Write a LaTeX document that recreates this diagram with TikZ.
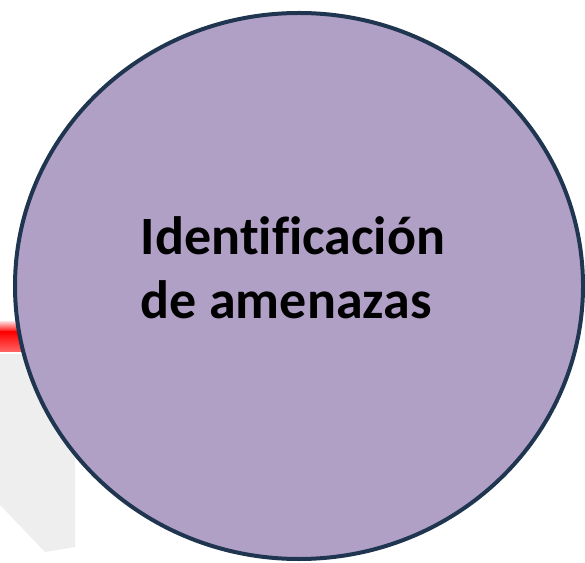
\documentclass[tikz,border=0pt]{standalone}
\usepackage{fontspec}
\setmainfont{Carlito}[Ligatures={NoCommon},RawFeature={-liga;-clig}]
\usetikzlibrary{shapes.geometric,positioning}
\definecolor{lila}{RGB}{176,160,198}
\definecolor{borde}{RGB}{31,53,80}

\begin{document}
\begin{tikzpicture}[x=1pt,y=1pt,
    amenaza/.style={ellipse,draw=borde,line width=4pt,fill=lila,
        minimum width=568pt,minimum height=546pt,inner sep=0pt},
    rotulo/.style={align=left,font=\fontsize{54}{64}\selectfont\bfseries,inner sep=0pt}]
        \useasboundingbox (0,0) rectangle (585,562);
        \clip (0,0) rectangle (585,562);

        % fondo
        \fill[gray!13] (0,208) -- (75,208) -- (75,15) -- (45,10) -- (0,57) -- cycle;
        \shade[top color=red!20,bottom color=red] (0,240) rectangle (45,230);
        \shade[top color=red,bottom color=red!60] (0,230) rectangle (45,210);

        % circulo
        \node[amenaza] (circ) at (299,276) {};
        \node[rotulo] (txt) at ([xshift=-6pt,yshift=18pt]circ.center)
            {Identificación\\de amenazas};
\end{tikzpicture}
\end{document}
